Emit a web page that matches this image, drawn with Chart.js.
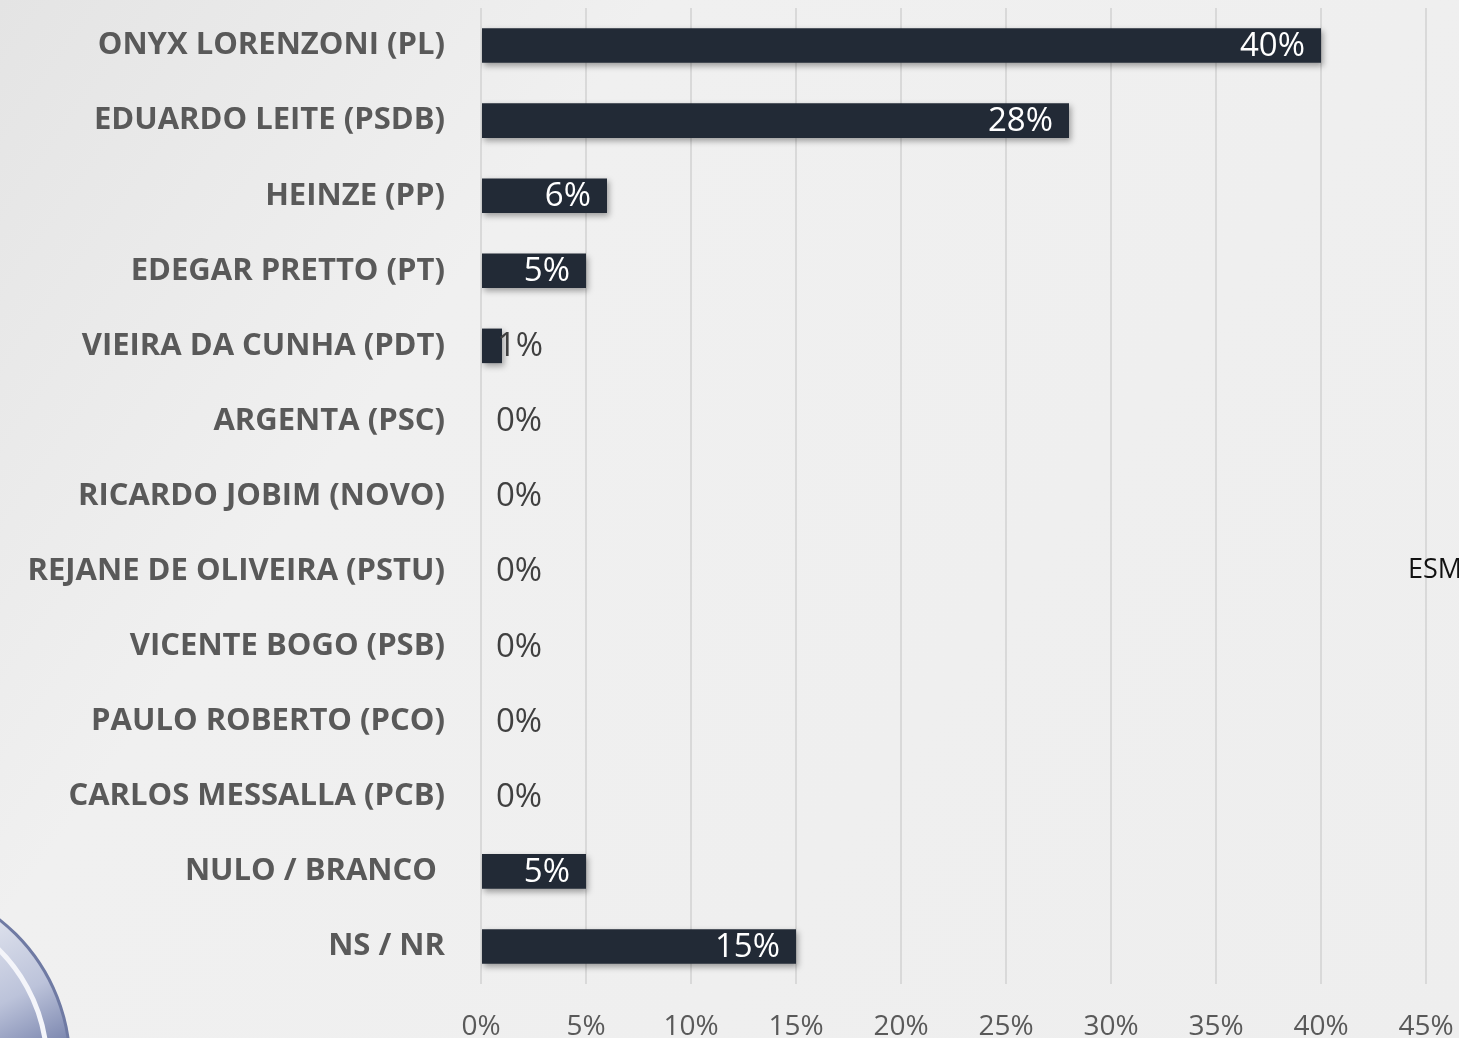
<!DOCTYPE html>
<html>
<head>
<meta charset="utf-8">
<script src="https://cdn.jsdelivr.net/npm/chart.js@4.4.1/dist/chart.umd.min.js"></script>
<style>
  html, body { margin: 0; padding: 0; width: 1459px; height: 1038px; overflow: hidden; background: #efefef; }
  #wrap { position: relative; width: 1459px; height: 1038px; }
  #side { position: absolute; left: 1408px; top: 549px; font: 27px "Open Sans", sans-serif; color: #111; white-space: nowrap; }
</style>
</head>
<body>
<div id="wrap">
  <canvas id="myChart" width="1459" height="1038"></canvas>
  <div id="side">ESM</div>
</div>
<script>
// DATA
let candidates = [
  "ONYX LORENZONI (PL)",
  "EDUARDO LEITE (PSDB)",
  "HEINZE (PP)",
  "EDEGAR PRETTO (PT)",
  "VIEIRA DA CUNHA (PDT)",
  "ARGENTA (PSC)",
  "RICARDO JOBIM (NOVO)",
  "REJANE DE OLIVEIRA (PSTU)",
  "VICENTE BOGO (PSB)",
  "PAULO ROBERTO (PCO)",
  "CARLOS MESSALLA (PCB)",
  "NULO / BRANCO ",
  "NS / NR"
];
let votes = [40, 28, 6, 5, 1, 0, 0, 0, 0, 0, 0, 5, 15];
let xTicks = [0, 5, 10, 15, 20, 25, 30, 35, 40, 45];

// BACKGROUND + LOGO
const backdrop = {
  id: "backdrop",
  beforeDraw(chart) {
    let ctx = chart.ctx;
    ctx.save();
    let g = ctx.createLinearGradient(0, 0, chart.width, chart.height);
    g.addColorStop(0, "#e4e4e4");
    g.addColorStop(0.3, "#f0f0f0");
    g.addColorStop(1, "#eeeeee");
    ctx.fillStyle = g;
    ctx.fillRect(0, 0, chart.width, chart.height);

    // logo piece, bottom left
    ctx.beginPath();
    ctx.arc(-115, 1065, 185, 0, Math.PI * 2);
    let lg = ctx.createLinearGradient(0, 900, 70, 1038);
    lg.addColorStop(0, "#e4e7f0");
    lg.addColorStop(0.6, "#bcc3da");
    lg.addColorStop(1, "#7d88b0");
    ctx.fillStyle = lg;
    ctx.fill();
    ctx.lineWidth = 3;
    ctx.strokeStyle = "#6f7aa3";
    ctx.stroke();
    ctx.beginPath();
    ctx.arc(-115, 1065, 162, -1.0, 0.0);
    ctx.lineWidth = 5;
    ctx.strokeStyle = "#f4f5fa";
    ctx.stroke();
    ctx.restore();
  }
};

// BAR SHADOW
const barShadow = {
  id: "barShadow",
  beforeDatasetsDraw(chart) {
    let ctx = chart.ctx;
    ctx.save();
    ctx.shadowColor = "rgba(0,0,0,0.35)";
    ctx.shadowBlur = 6;
    ctx.shadowOffsetX = 2;
    ctx.shadowOffsetY = 3;
  },
  afterDatasetsDraw(chart) {
    chart.ctx.restore();
  }
};

// VALUE LABELS
const valueLabels = {
  id: "valueLabels",
  afterDatasetsDraw(chart) {
    let ctx = chart.ctx;
    let meta = chart.getDatasetMeta(0);
    ctx.save();
    ctx.font = '33px "Open Sans", sans-serif';
    ctx.textBaseline = "middle";
    meta.data.forEach((bar, i) => {
      let text = votes[i] + "%";
      let w = ctx.measureText(text).width;
      if (bar.x - bar.base > w + 24) {
        ctx.fillStyle = "#ffffff";
        ctx.textAlign = "right";
        ctx.fillText(text, bar.x - 16, bar.y + 1);
      } else {
        ctx.fillStyle = "#404040";
        ctx.textAlign = "left";
        ctx.fillText(text, bar.base + 15, bar.y + 1);
      }
    });
    ctx.restore();
  }
};

let ctx = document.getElementById("myChart").getContext("2d");

let chart = new Chart(ctx, {
  type: "bar",
  data: {
    labels: candidates,
    datasets: [{
      data: votes,
      backgroundColor: "#222a36",
      borderWidth: 0,
      barPercentage: 0.46,
      categoryPercentage: 1
    }]
  },
  options: {
    indexAxis: "y",
    responsive: false,
    animation: false,
    layout: { padding: { top: 8, right: 33, bottom: 0, left: 0 } },
    plugins: {
      legend: { display: false },
      tooltip: { enabled: false }
    },
    scales: {
      x: {
        min: 0,
        max: 45,
        afterBuildTicks(axis) {
          axis.ticks = xTicks.map(v => ({ value: v }));
        },
        afterFit(axis) {
          axis.height = 54;
          axis.paddingLeft = 0;
          axis.paddingRight = 0;
        },
        grid: { color: "#d9d9d9", lineWidth: 2, drawTicks: false },
        border: { display: false },
        ticks: {
          color: "#595959",
          font: { family: "Open Sans", size: 28 },
          padding: 26,
          callback: v => v + "%"
        }
      },
      y: {
        afterFit(axis) {
          axis.width = 481;
          axis.paddingTop = 0;
          axis.paddingBottom = 0;
        },
        grid: { display: false, drawTicks: false },
        border: { display: false },
        ticks: {
          color: "#595959",
          font: { family: "Open Sans", size: 31, weight: "bold" },
          padding: 36
        }
      }
    }
  },
  plugins: [backdrop, barShadow, valueLabels]
});
</script>
</body>
</html>
